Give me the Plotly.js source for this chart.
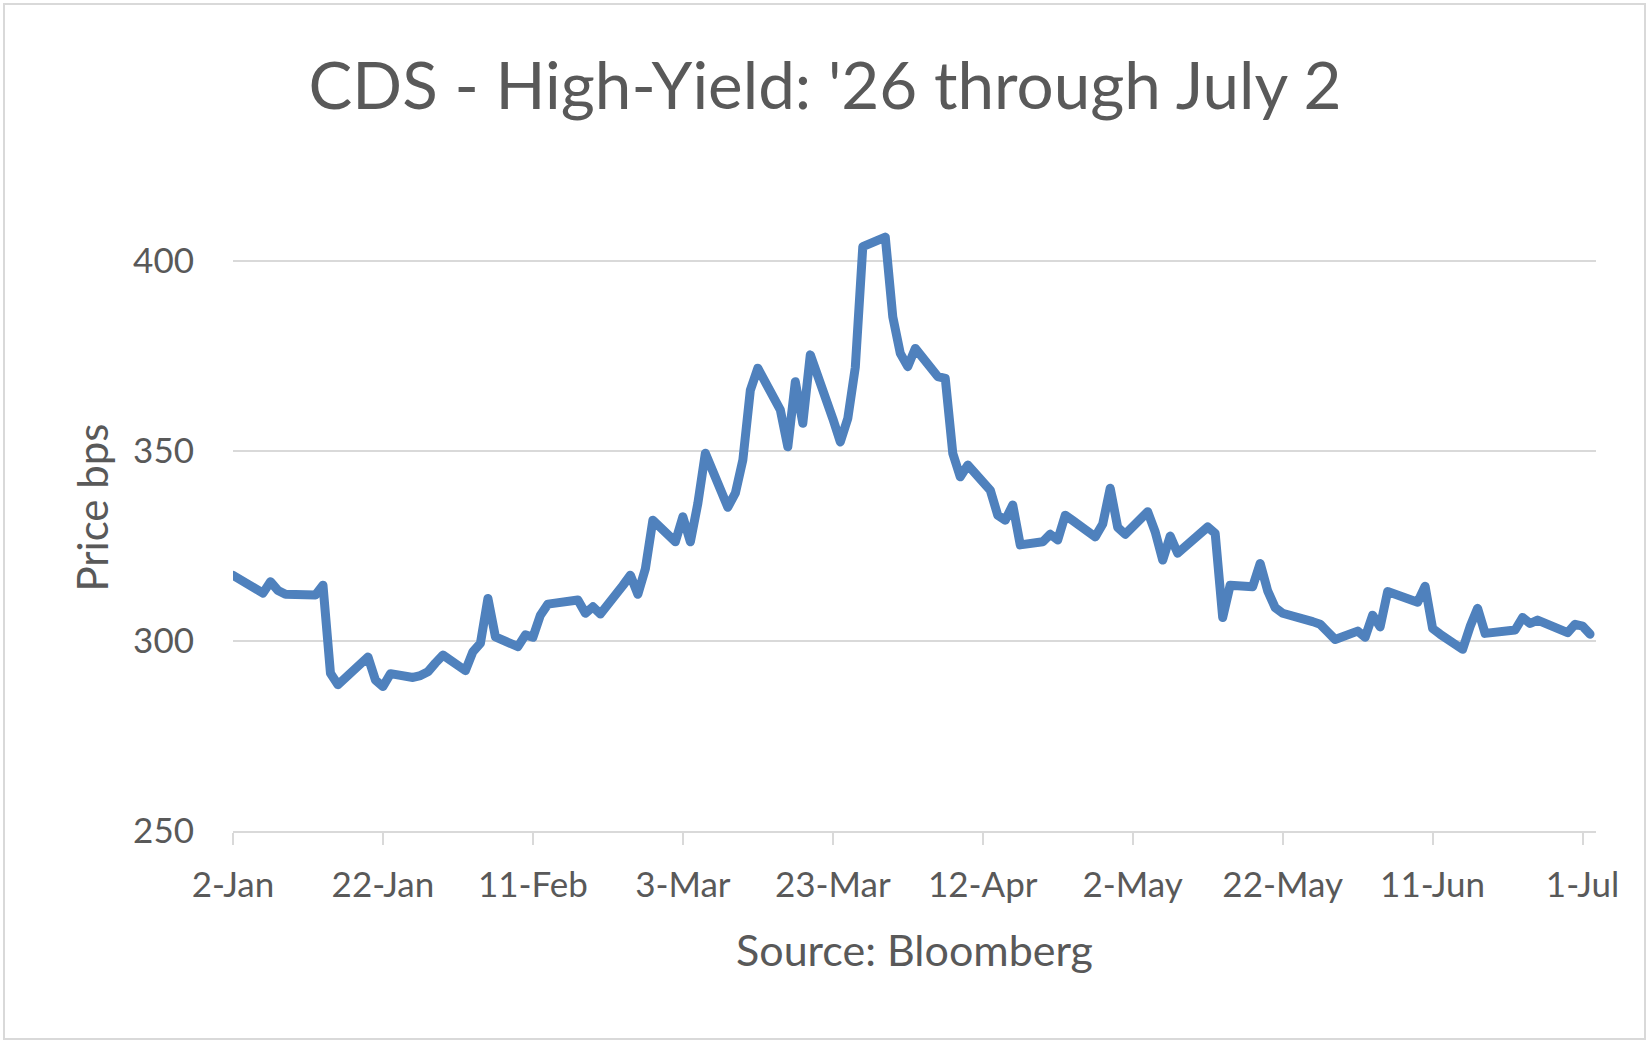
<!DOCTYPE html>
<html>
<head>
<meta charset="utf-8">
<script src="https://cdn.plot.ly/plotly-3.0.1.min.js"></script>
<style>
  html, body { margin: 0; padding: 0; background: #ffffff; }
  #wrap { position: relative; width: 1650px; height: 1045px; }
  #chart { width: 1650px; height: 1045px; }
  #frame {
    position: absolute; left: 3px; top: 3px; width: 1643px; height: 1037px;
    border: 2px solid #d9d9d9; box-sizing: border-box; pointer-events: none;
  }
  #chart .js-line { stroke-linejoin: round; stroke-linecap: round; }
</style>
</head>
<body>
<div id="wrap">
  <div id="chart"></div>
  <div id="frame"></div>
</div>
<script>
// Daily high-yield CDS index level (bps), 2026 trading days
const dates = [
  '2026-01-02','2026-01-05','2026-01-06','2026-01-07','2026-01-08','2026-01-09',
  '2026-01-12','2026-01-13','2026-01-14','2026-01-15','2026-01-16',
  '2026-01-20','2026-01-21','2026-01-22','2026-01-23',
  '2026-01-26','2026-01-27','2026-01-28','2026-01-29','2026-01-30',
  '2026-02-02','2026-02-03','2026-02-04','2026-02-05','2026-02-06',
  '2026-02-09','2026-02-10','2026-02-11','2026-02-12','2026-02-13',
  '2026-02-17','2026-02-18','2026-02-19','2026-02-20',
  '2026-02-23','2026-02-24','2026-02-25','2026-02-26','2026-02-27',
  '2026-03-02','2026-03-03','2026-03-04','2026-03-05','2026-03-06',
  '2026-03-09','2026-03-10','2026-03-11','2026-03-12','2026-03-13',
  '2026-03-16','2026-03-17','2026-03-18','2026-03-19','2026-03-20',
  '2026-03-23','2026-03-24','2026-03-25','2026-03-26','2026-03-27',
  '2026-03-30','2026-03-31','2026-04-01','2026-04-02','2026-04-03',
  '2026-04-06','2026-04-07','2026-04-08','2026-04-09','2026-04-10',
  '2026-04-13','2026-04-14','2026-04-15','2026-04-16','2026-04-17',
  '2026-04-20','2026-04-21','2026-04-22','2026-04-23','2026-04-24',
  '2026-04-27','2026-04-28','2026-04-29','2026-04-30','2026-05-01',
  '2026-05-04','2026-05-05','2026-05-06','2026-05-07','2026-05-08',
  '2026-05-11','2026-05-12','2026-05-13','2026-05-14','2026-05-15',
  '2026-05-18','2026-05-19','2026-05-20','2026-05-21','2026-05-22',
  '2026-05-26','2026-05-27','2026-05-28','2026-05-29',
  '2026-06-01','2026-06-02','2026-06-03','2026-06-04','2026-06-05',
  '2026-06-08','2026-06-09','2026-06-10','2026-06-11','2026-06-12',
  '2026-06-15','2026-06-16','2026-06-17','2026-06-18',
  '2026-06-22','2026-06-23','2026-06-24','2026-06-25','2026-06-26',
  '2026-06-29','2026-06-30','2026-07-01','2026-07-02'
];

const spreadBps = [
  317.3, 313.3, 312.6, 315.6, 313.3, 312.3,
  312.2, 312.1, 314.7, 291.5, 288.5,
  295.8, 289.7, 288.0, 291.4,
  290.4, 290.9, 291.9, 294.2, 296.3,
  292.2, 297.2, 299.4, 311.2, 301.1,
  298.5, 301.6, 301.0, 306.8, 309.7,
  310.8, 307.3, 309.0, 307.1,
  314.6, 317.3, 312.3, 319.0, 331.8,
  326.1, 332.7, 326.1, 336.2, 349.4,
  335.2, 338.9, 347.6, 366.0, 371.8,
  360.8, 351.1, 368.2, 357.3, 375.3,
  358.5, 352.4, 358.6, 372.0, 403.8,
  406.3, 385.3, 375.7, 372.2, 377.0,
  369.6, 369.1, 349.4, 343.2, 346.3,
  339.7, 333.1, 331.8, 335.8, 325.3,
  326.1, 328.1, 326.6, 333.1, 331.7,
  327.4, 330.8, 340.2, 329.9, 328.1,
  334.0, 328.7, 321.3, 327.6, 323.1,
  328.4, 330.0, 328.3, 306.2, 314.7,
  314.3, 320.4, 313.2, 308.8, 307.3,
  305.1, 304.4, 302.4, 300.4,
  302.6, 301.0, 306.8, 303.7, 313.0,
  311.2, 310.2, 314.4, 303.3, 301.8,
  297.8, 303.8, 308.6, 302.0,
  302.9, 306.2, 304.6, 305.5, 304.7,
  302.2, 304.4, 303.9, 301.8
];

// Date-axis ticks every 20 days
const tickDates = ['2026-01-02','2026-01-22','2026-02-11','2026-03-03','2026-03-23',
                   '2026-04-12','2026-05-02','2026-05-22','2026-06-11','2026-07-01'];
const tickLabels = ['2-Jan','22-Jan','11-Feb','3-Mar','23-Mar',
                    '12-Apr','2-May','22-May','11-Jun','1-Jul'];
const yTicks = [250, 300, 350, 400];

const textGray = '#595959';
const gridGray = '#d9d9d9';

const trace = {
  type: 'scatter',
  mode: 'lines',
  x: dates,
  y: spreadBps,
  line: { color: '#4f81bd', width: 9, shape: 'linear' },
  hoverinfo: 'x+y'
};

const layout = {
  width: 1650,
  height: 1045,
  paper_bgcolor: '#ffffff',
  plot_bgcolor: '#ffffff',
  font: { family: 'Lato, "Open Sans", sans-serif', color: textGray },
  showlegend: false,
  margin: { l: 233, r: 54, t: 223, b: 214, pad: 0 },
  title: {
    text: "CDS - High-Yield: '26 through July 2",
    font: { family: 'Lato, sans-serif', size: 65.5, color: textGray },
    xref: 'container', x: 0.5, xanchor: 'center',
    yref: 'container', y: 1 - 86 / 1045, yanchor: 'middle'
  },
  xaxis: {
    type: 'date',
    range: ['2026-01-02', '2026-07-02 19:00'],
    tickmode: 'array',
    tickvals: tickDates,
    ticktext: tickLabels,
    tickfont: { size: 35, color: textGray },
    ticks: 'outside',
    ticklen: 12,
    tickwidth: 2,
    tickcolor: gridGray,
    ticklabelstandoff: 10,
    showline: true,
    linecolor: gridGray,
    linewidth: 2,
    showgrid: false,
    zeroline: false,
    automargin: false,
    title: {
      text: 'Source: Bloomberg',
      font: { size: 43, color: textGray },
      standoff: 33
    }
  },
  yaxis: {
    range: [250, 410],
    tickmode: 'array',
    tickvals: yTicks,
    tickfont: { size: 35, color: textGray },
    ticks: '',
    ticklabelstandoff: 38,
    showline: false,
    showgrid: true,
    gridcolor: gridGray,
    gridwidth: 2,
    zeroline: false,
    automargin: false
  },
  annotations: [{
    text: 'Price bps',
    textangle: -90,
    xref: 'paper', yref: 'paper',
    x: (91.5 - 233) / 1363, y: (831 - 508) / 608,
    xanchor: 'center', yanchor: 'middle',
    showarrow: false,
    font: { size: 42, color: textGray }
  }]
};

Plotly.newPlot('chart', [trace], layout, { displayModeBar: false, staticPlot: true });
</script>
</body>
</html>
